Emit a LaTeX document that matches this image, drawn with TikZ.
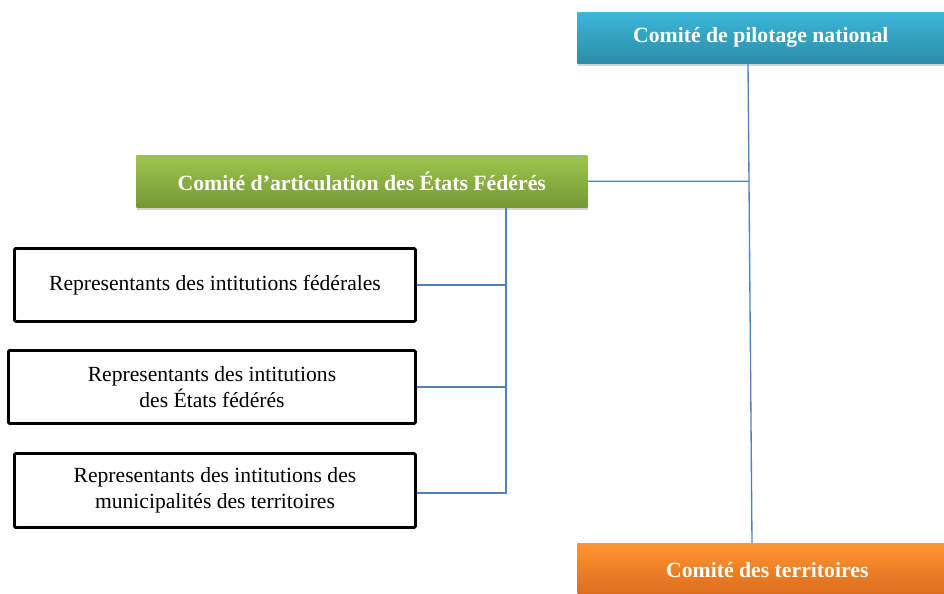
\documentclass[tikz,border=0pt]{standalone}
\usepackage{fontspec}
\setmainfont{Liberation Serif}
\usetikzlibrary{positioning,shadows}

\definecolor{linkblue}{HTML}{4F81BD}
\definecolor{pilottop}{HTML}{3BB6D8}
\definecolor{pilotbot}{HTML}{2C8EA8}
\definecolor{artictop}{HTML}{9DC54C}
\definecolor{articbot}{HTML}{779836}
\definecolor{terrtop}{HTML}{FF9632}
\definecolor{terrbot}{HTML}{D96A1C}

\tikzset{
	comite/.style={draw=none, text=white, font=\bfseries\fontsize{16.3}{19}\selectfont,
		anchor=north west, inner sep=0pt, align=center,
		drop shadow={shadow xshift=0.5pt, shadow yshift=-2pt, opacity=0.35}},
	membre/.style={draw=black, line width=2.2pt, rounded corners=1pt, fill=white,
		anchor=north west, inner sep=0pt, align=center,
		font=\fontsize{16.2}{19.5}\selectfont},
	lien/.style={draw=linkblue, line width=1pt},
}

\begin{document}
\begin{tikzpicture}[x=0.75pt, y=-0.75pt]
		\useasboundingbox (0,0) rectangle (944,593);
		\node (pilot) [comite, top color=pilottop, bottom color=pilotbot,
			minimum width=367*0.75pt, minimum height=51*0.75pt] at (577,12) {Comité de pilotage national};
		\node (artic) [comite, top color=artictop, bottom color=articbot,
			minimum width=451*0.75pt, minimum height=52*0.75pt] at (136,155) {Comité d’articulation des États Fédérés};
		\node (terr) [comite, top color=terrtop, bottom color=terrbot,
			minimum width=380*0.75pt, minimum height=54*0.75pt] at (577,543) {Comité des territoires};

		\node (fed) [membre, minimum width=401*0.75pt, minimum height=73*0.75pt] at (13,247) {Representants des intitutions fédérales};
		\node (etats) [membre, minimum width=407*0.75pt, minimum height=73*0.75pt] at (7,349) {Representants des intitutions\\des États fédérés};
		\node (muni) [membre, minimum width=401*0.75pt, minimum height=74*0.75pt] at (13,452) {Representants des intitutions des\\municipalités des territoires};

		\coordinate (haut) at (748,63);
		\coordinate (bas) at (752,543);
		\coordinate (pied) at (506,493);

		\draw[lien] (pilot.south -| haut) -- (terr.north -| bas);
		\draw[lien] (artic.east) -- (intersection of haut--bas and artic.east--artic.west);
		\draw[lien] (artic.south -| pied) -- (pied) -- (muni.east |- pied);
		\draw[lien] (fed.east) -- (fed.east -| pied);
		\draw[lien] (etats.east) -- (etats.east -| pied);
	\end{tikzpicture}
\end{document}
